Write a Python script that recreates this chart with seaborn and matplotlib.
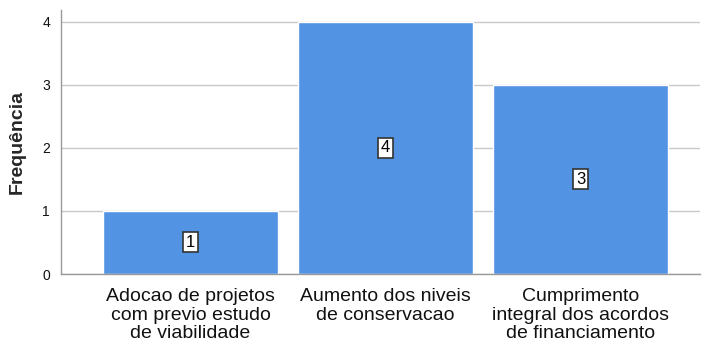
import matplotlib
matplotlib.use("Agg")
import matplotlib.pyplot as plt
import seaborn as sns
import pandas as pd

categories = [
    "Adocao de projetos\ncom previo estudo\nde viabilidade",
    "Aumento dos niveis\nde conservacao",
    "Cumprimento\nintegral dos acordos\nde financiamento",
]
frequencies = [1, 4, 3]
y_ticks = [0, 1, 2, 3, 4]

sns.set_theme(style="white")
plt.rcParams["font.family"] = ["Liberation Sans", "DejaVu Sans"]

df = pd.DataFrame({"categoria": categories, "frequencia": frequencies})

fig = plt.figure(figsize=(7.04, 3.42), dpi=100)
ax = fig.add_axes([61 / 704, 68 / 342, 639 / 704, 264 / 342])

sns.barplot(data=df, x="categoria", y="frequencia", color="#5393e3",
            saturation=1, width=0.897, ax=ax, zorder=2)

ax.set_xlim(-0.664, 2.613)
ax.set_ylim(0, 4.19)
ax.set_yticks(y_ticks)
ax.yaxis.grid(True, color="#c8c8c8", linewidth=1, zorder=0)
ax.set_axisbelow(True)

for i, v in enumerate(frequencies):
    ax.text(i, v / 2, str(v), ha="center", va="center", fontsize=12,
            color="black", zorder=5,
            bbox=dict(boxstyle="square,pad=0.15", fc="white", ec="#333333", lw=1.2))

for s in ["top", "right"]:
    ax.spines[s].set_visible(False)
for s in ["left", "bottom"]:
    ax.spines[s].set_color("#999999")
    ax.spines[s].set_linewidth(1)

ax.tick_params(axis="y", labelsize=10, length=0, pad=8, colors="#111111")
ax.tick_params(axis="x", labelsize=14, length=0, pad=10, colors="#111111")
for lbl in ax.get_xticklabels():
    lbl.set_linespacing(1.13)

ax.set_xlabel("")
ax.set_ylabel("Frequência", fontsize=14, fontweight="bold", labelpad=12)

fig.savefig("out.png", dpi=100)
